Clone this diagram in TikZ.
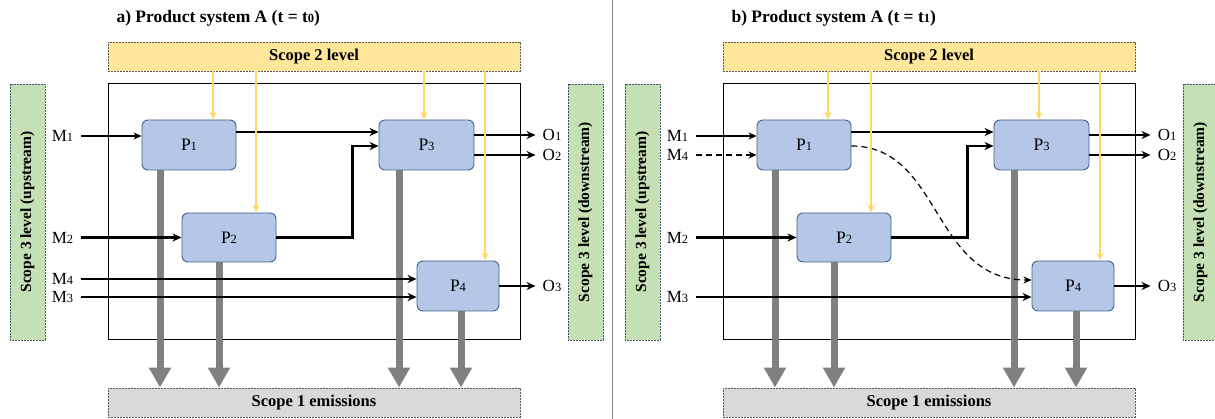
\documentclass[tikz,border=0pt]{standalone}
\usepackage{fontspec}
\setmainfont{Liberation Serif}
\usetikzlibrary{arrows.meta,positioning}

\definecolor{scopetwofill}{HTML}{FFE699}
\definecolor{scopetwoline}{HTML}{FFD966}
\definecolor{scopethreefill}{HTML}{C5E0B4}
\definecolor{scopeonefill}{HTML}{D9D9D9}
\definecolor{procfill}{HTML}{B4C7E7}
\definecolor{procline}{HTML}{41608F}
\definecolor{emisgray}{HTML}{808080}
\definecolor{dashline}{HTML}{595959}
\definecolor{greenline}{HTML}{44546A}

\newcommand{\lowidx}[1]{{\fontsize{12.5}{13}\selectfont #1}}

\begin{document}
\begin{tikzpicture}[
    x=1pt, y=-1pt,
    paneltitle/.style={anchor=west, font=\bfseries\fontsize{17.5}{19}\selectfont},
    scopebar/.style={
        draw=dashline,
        dash pattern=on 2pt off 1pt,
        line width=0.8pt,
        minimum width=412pt,
        minimum height=29pt,
        font=\bfseries\fontsize{16.5}{18}\selectfont
    },
    sidebar/.style={
        draw=greenline,
        fill=scopethreefill,
        dash pattern=on 2pt off 1pt,
        line width=0.8pt,
        rotate=90,
        minimum width=256pt,
        minimum height=35pt,
        font=\bfseries\fontsize{15.5}{17}\selectfont
    },
    sysbox/.style={draw, line width=1pt, minimum width=412pt, minimum height=256pt},
    proc/.style={
        draw=procline,
        fill=procfill,
        line width=0.9pt,
        rounded corners=6pt,
        minimum width=94pt,
        minimum height=50pt,
        font=\fontsize{17.5}{19}\selectfont
    },
    flowlabel/.style={inner sep=1pt, font=\fontsize{17}{18}\selectfont},
    flow/.style={line width=2.2pt, -{Stealth[length=9pt,width=8pt]}},
    inflow/.style={line width=1.2pt, -{Stealth[length=8pt,width=7pt]}},
    feed/.style={draw=scopetwoline, line width=1.6pt, -{Stealth[length=8pt,width=7pt]}},
    emis/.style={draw=emisgray, line width=7pt, -{Triangle[length=20pt,width=21pt]}},
    newpath/.style={dash pattern=on 6pt off 4pt}
]
\useasboundingbox (0,0) rectangle (1215,419);

% panel a
\node[paneltitle] (titlea) at (113,18) {a) Product system A (t = t\lowidx{0})};
\node[scopebar, fill=scopetwofill] (s2a) at (314,56.5) {Scope 2 level};
\node[scopebar, fill=scopeonefill] (s1a) at (314,402.5) {Scope 1 emissions};
\node[sysbox] (sysa) at (314,212) {};
\node[sidebar] (upa) at (27.5,212) {Scope 3 level (upstream)};
\node[sidebar] (downa) at (585.5,212) {Scope 3 level (downstream)};

\node[proc] (p1a) at (189,145) {P\lowidx{1}};
\node[proc, minimum height=49pt] (p2a) at (229,237.5) {P\lowidx{2}};
\node[proc, minimum width=95pt] (p3a) at (426.5,145) {P\lowidx{3}};
\node[proc, minimum width=82pt] (p4a) at (458,286) {P\lowidx{4}};

\node[flowlabel] (m1a) at (62.5,136) {M\lowidx{1}};
\node[flowlabel] (m2a) at (62.5,237.5) {M\lowidx{2}};
\node[flowlabel] (m4a) at (62.5,279) {M\lowidx{4}};
\node[flowlabel] (m3a) at (62.5,297) {M\lowidx{3}};
\node[flowlabel] (o1a) at (552,135) {O\lowidx{1}};
\node[flowlabel] (o2a) at (552,155) {O\lowidx{2}};
\node[flowlabel] (o3a) at (552,286) {O\lowidx{3}};

% panel b
\node[paneltitle] (titleb) at (728,18) {b) Product system A (t = t\lowidx{1})};
\node[scopebar, fill=scopetwofill] (s2b) at (929,56.5) {Scope 2 level};
\node[scopebar, fill=scopeonefill] (s1b) at (929,402.5) {Scope 1 emissions};
\node[sysbox] (sysb) at (929,212) {};
\node[sidebar] (upb) at (642.5,212) {Scope 3 level (upstream)};
\node[sidebar] (downb) at (1200.5,212) {Scope 3 level (downstream)};

\node[proc] (p1b) at (804,145) {P\lowidx{1}};
\node[proc, minimum height=49pt] (p2b) at (844,237.5) {P\lowidx{2}};
\node[proc, minimum width=95pt] (p3b) at (1041.5,145) {P\lowidx{3}};
\node[proc, minimum width=82pt] (p4b) at (1073,286) {P\lowidx{4}};

\node[flowlabel] (m1b) at (677.5,136) {M\lowidx{1}};
\node[flowlabel] (m4b) at (677.5,155) {M\lowidx{4}};
\node[flowlabel] (m2b) at (677.5,237.5) {M\lowidx{2}};
\node[flowlabel] (m3b) at (677.5,297) {M\lowidx{3}};
\node[flowlabel] (o1b) at (1167,135) {O\lowidx{1}};
\node[flowlabel] (o2b) at (1167,155) {O\lowidx{2}};
\node[flowlabel] (o3b) at (1167,286) {O\lowidx{3}};

\draw[emisgray, line width=1pt] (612,0) -- (612,419);

% scope 1 emissions
\foreach \s in {a,b} {
    \foreach \p/\dx in {p1/-29,p2/-10,p3/-27.5,p4/3} {
        \coordinate (e\p\s) at ([xshift=\dx pt]\p\s.south);
        \draw[emis] (e\p\s) -- (e\p\s |- s1\s.north);
    }
}

% material and product flows
\draw[inflow] ([xshift=7pt]m1a.east) -- (m1a.east -| p1a.west);
\draw[flow] ([xshift=7pt]m2a.east) -- (m2a.east -| p2a.west);
\draw[flow] ([xshift=7pt]m4a.east) -- (m4a.east -| p4a.west);
\draw[flow] ([xshift=7pt]m3a.east) -- (m3a.east -| p4a.west);
\draw[flow] ([yshift=13pt]p1a.east) -- ([yshift=13pt]p3a.west);
\draw[flow] (p2a.east) -- ++(76,0) |- ([yshift=-1pt]p3a.west);
\draw[flow] (o1a.west -| p3a.east) -- ([xshift=-6pt]o1a.west);
\draw[flow] (o2a.west -| p3a.east) -- ([xshift=-6pt]o2a.west);
\draw[flow] (o3a.west -| p4a.east) -- ([xshift=-6pt]o3a.west);

\draw[inflow] ([xshift=7pt]m1b.east) -- (m1b.east -| p1b.west);
\draw[inflow, newpath] ([xshift=7pt]m4b.east) -- (m4b.east -| p1b.west);
\draw[flow] ([xshift=7pt]m2b.east) -- (m2b.east -| p2b.west);
\draw[flow] ([xshift=7pt]m3b.east) -- (m3b.east -| p4b.west);
\draw[flow] ([yshift=13pt]p1b.east) -- ([yshift=13pt]p3b.west);
\draw[flow] (p2b.east) -- ++(76,0) |- ([yshift=-1pt]p3b.west);
\draw[inflow, newpath] ([yshift=-1pt]p1b.east) .. controls +(90,0) and +(-100,0) .. ([yshift=6pt]p4b.west);
\draw[flow] (o1b.west -| p3b.east) -- ([xshift=-6pt]o1b.west);
\draw[flow] (o2b.west -| p3b.east) -- ([xshift=-6pt]o2b.west);
\draw[flow] (o3b.west -| p4b.east) -- ([xshift=-6pt]o3b.west);

% scope 2 supply
\foreach \s in {a,b} {
    \foreach \p/\dx in {p1/24,p2/27,p3/-2.5,p4/27} {
        \coordinate (f\p\s) at ([xshift=\dx pt]\p\s.north);
        \draw[feed] (f\p\s |- s2\s.south) -- (f\p\s);
    }
}

\end{tikzpicture}
\end{document}
